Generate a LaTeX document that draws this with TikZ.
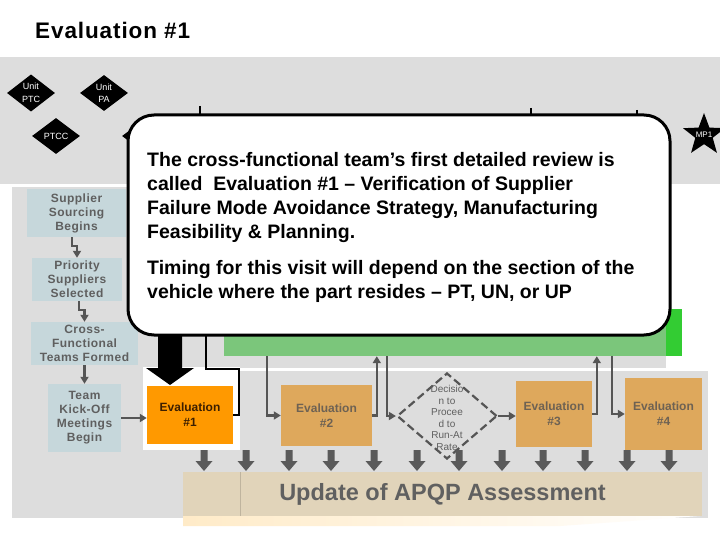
\documentclass[tikz,border=0pt]{standalone}
\usepackage{fontspec}
\setmainfont{Liberation Sans}
\newfontfamily\widesans[LetterSpace=4]{Liberation Sans}
\usetikzlibrary{shapes.geometric,arrows.meta,calc}
\definecolor{bgray}{HTML}{DDDDDD}
\definecolor{lblue}{HTML}{C6D7DB}
\definecolor{tgray}{HTML}{5F5F5F}
\definecolor{tanc}{HTML}{DEA85C}
\definecolor{orangeE}{HTML}{FF9900}
\definecolor{darkE}{HTML}{3D1F00}
\definecolor{tanText}{HTML}{6E6253}
\definecolor{greenL}{HTML}{7BC67B}
\definecolor{greenB}{HTML}{33CC33}
\definecolor{updc}{HTML}{E1D4BA}
\definecolor{ugray}{HTML}{606060}
\definecolor{cgray}{HTML}{555555}
\definecolor{agray}{HTML}{5A5A5A}
\definecolor{fadeY}{HTML}{FFEBC8}
\tikzset{
  lbox/.style={rectangle, fill=lblue, text=tgray, align=center, inner sep=0pt,
    font=\widesans\fontsize{12}{14}\selectfont\bfseries},
  evbox/.style={rectangle, fill=tanc, text=tanText, align=center, inner sep=0pt,
    font=\fontsize{12}{15}\selectfont\bfseries},
  bdia/.style={diamond, fill=black, text=white, align=center, inner sep=0pt,
    minimum width=48pt, minimum height=36pt, font=\fontsize{9}{12.5}\selectfont},
  conn/.style={draw=cgray, line width=2.4pt, -{Triangle[length=7pt,width=8pt]}},
  connk/.style={draw=black, line width=2.2pt},
  calltext/.style={align=left, inner sep=0pt, anchor=north west,
    font=\fontsize{19.5}{24}\selectfont\bfseries}
}
\begin{document}
\begin{tikzpicture}[x=1pt,y=-1pt]
\useasboundingbox (0,0) rectangle (720,540);
\fill[white] (0,0) rectangle (720,540);
% backgrounds
\fill[bgray] (0,57) rectangle (720,184);
\fill[bgray] (12,187) rectangle (666,368);
\fill[bgray] (12,187) rectangle (143,518);
\fill[bgray] (12,371) rectangle (708,518);
\fill[white] (143,367) rectangle (240,450);
% title
\node[anchor=west, inner sep=0pt, font=\widesans\fontsize{22.5}{24}\selectfont\bfseries] (title) at (35,30) {Evaluation \#1};
% top band diamonds
\node[bdia] (u1) at (31,93) {Unit\\PTC};
\node[bdia] (u2) at (104,93) {Unit\\PA};
\node[bdia] (u3) at (56,136) {PTCC};
\node[bdia] (u4) at (146,136) {};
\node[star, star points=5, star point ratio=2.4, fill=black, minimum size=44pt, inner sep=0pt] (mp) at (704,135) {};
\node[text=white, font=\fontsize{8}{9}\selectfont, inner sep=0pt] (mpt) at (mp.center) {MP1};
% milestone ticks
\coordinate (k1) at (200,106);
\coordinate (k2) at (531,108);
\coordinate (k3) at (637,110);
\foreach \k in {k1,k2,k3} \draw[black, line width=1.5pt] (\k) -- ++(0,12);
% green bar
\node[rectangle, fill=greenL, minimum width=442pt, minimum height=47pt, inner sep=0pt] (g) at (445,332.5) {};
\fill[greenB] (g.north east) rectangle ++(16,47);
% left column
\node[lbox, minimum width=99pt, minimum height=48pt] (ss) at (76.5,213) {Supplier\\Sourcing\\Begins};
\node[lbox, minimum width=90pt, minimum height=43pt] (ps) at (77,279.5) {Priority\\Suppliers\\Selected};
\node[lbox, minimum width=107pt, minimum height=43pt] (cf) at (84.5,343.5) {Cross-\\Functional\\Teams Formed};
\node[lbox, minimum width=73pt, minimum height=68pt] (ko) at (84.5,418) {Team\\Kick-Off\\Meetings\\Begin};
% evaluations
\node[evbox, fill=orangeE, text=darkE, minimum width=86pt, minimum height=58pt] (e1) at (190,415) {Evaluation\\\#1};
\node[evbox, minimum width=91pt, minimum height=61pt] (e2) at (326.5,415.5) {Evaluation\\\#2};
\node[evbox, minimum width=76pt, minimum height=66pt] (e3) at (554,414) {Evaluation\\\#3};
\node[evbox, minimum width=77pt, minimum height=72pt] (e4) at (663.5,414) {Evaluation\\\#4};
% decision
\node[diamond, draw=cgray, line width=2.2pt, dash pattern=on 8pt off 4pt, minimum width=100pt, minimum height=86pt, inner sep=0pt] (dec) at (447,416) {};
\node[font=\fontsize{10}{11.6}\selectfont, text=tgray, align=center, inner sep=0pt] (dect) at (447,418) {Decisio\\n to\\Procee\\d to\\Run-At\\Rate};
% update bar
\shade[left color=fadeY, right color=white] (183,516) -- (700,516) -- (560,526) -- (183,526) -- cycle;
\node[rectangle, fill=updc, minimum width=519pt, minimum height=44pt, inner sep=0pt, text=ugray,
  font=\fontsize{23.5}{26}\selectfont\bfseries] (upd) at (442.5,494) {Update of APQP Assessment};
\draw[updc!85!black, line width=0.5pt] (240,472) -- (240,516);
% down block arrows
\foreach \x in {204,246,289,331,374,417,459,502,543,585,627,669}
  \fill[agray] (\x-3.5,450) -- (\x+3.5,450) -- (\x+3.5,461) -- (\x+8.5,461) -- (\x,471) -- (\x-8.5,461) -- (\x-3.5,461) -- cycle;
% connectors
\draw[conn] ([xshift=-4.5pt]ss.south) -- ++(0,9) -| (ps.north);
\draw[conn] ([xshift=2pt]ps.south) -- ++(0,9) -| (cf.north);
\draw[conn] (cf.south) -- (ko.north);
\draw[conn] (ko.east) -- (ko.east -| e1.west);
\coordinate (t1) at (206,320);
\draw[connk] (e1.east) -- ++(6,0) -- ++(0,-46) -| (t1);
\draw[conn] ([xshift=43pt]g.south west) |- (e2.west);
\draw[conn] (e2.east) -| ([xshift=153pt]g.south west);
\draw[conn] ([xshift=163pt]g.south west) |- (dec.west);
\draw[conn] (dec.east) -- (dec.east -| e3.west);
\draw[conn] (e3.east) -| ([xshift=373pt]g.south west);
\draw[conn] ([xshift=388pt]g.south west) |- (e4.west);
% big black arrow
\fill[black] (158,320) -- (182,320) -- (182,368) -- (194,368) -- (170,385) -- (146,368) -- (158,368) -- cycle;
% callout
\node[rectangle, draw=black, line width=3pt, fill=white, rounded corners=26pt,
  minimum width=542pt, minimum height=220pt, inner sep=0pt] (call) at (399,225) {};
\node[calltext] (ct) at (147,152.5) {The cross-functional team’s first detailed review is\\
called~ Evaluation \#1 – Verification of Supplier\\
Failure Mode Avoidance Strategy, Manufacturing\\
Feasibility \& Planning.\\[12pt]
Timing for this visit will depend on the section of the\\
vehicle where the part resides – PT, UN, or UP};
\end{tikzpicture}
\end{document}
